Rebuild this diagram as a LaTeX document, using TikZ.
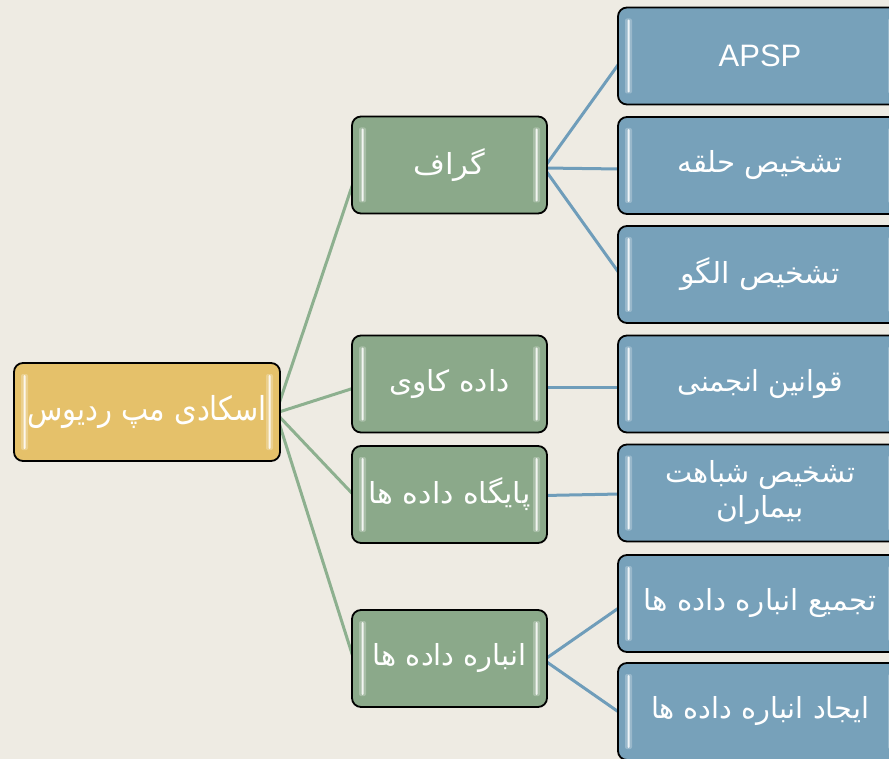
\documentclass[tikz,border=0pt]{standalone}
\usepackage{fontspec}
\usepackage{graphicx}
\setmainfont{Liberation Sans}
\newfontfamily\fa[Script=Arabic]{DejaVu Sans}
\TeXXeTstate=1
\definecolor{bgc}{HTML}{EEEBE3}
\definecolor{rootfill}{HTML}{E5C16A}
\definecolor{gfill}{HTML}{8BA98A}
\definecolor{bfill}{HTML}{77A1BA}
\definecolor{glinec}{HTML}{8DB08F}
\definecolor{blinec}{HTML}{6F9DBA}
\newcommand\rtl[2]{\resizebox{#1}{\height}{\fa #2}}
\pgfdeclarelayer{bgl}
\pgfdeclarelayer{edges}
\pgfsetlayers{bgl,edges,main}
\tikzset{
  bars/.style={path picture={
    \fill[white,opacity=.25,rounded corners=2pt] ([xshift=7pt,yshift=-11pt]path picture bounding box.north west) rectangle ([xshift=14pt,yshift=11pt]path picture bounding box.south west);
    \fill[white,opacity=.85,rounded corners=1pt] ([xshift=9.5pt,yshift=-12pt]path picture bounding box.north west) rectangle ([xshift=11.5pt,yshift=12pt]path picture bounding box.south west);
    \fill[white,opacity=.25,rounded corners=2pt] ([xshift=-14pt,yshift=-11pt]path picture bounding box.north east) rectangle ([xshift=-7pt,yshift=11pt]path picture bounding box.south east);
    \fill[white,opacity=.85,rounded corners=1pt] ([xshift=-11.5pt,yshift=-12pt]path picture bounding box.north east) rectangle ([xshift=-9.5pt,yshift=12pt]path picture bounding box.south east);
  }},
  box/.style={draw=black, line width=1.8pt, rounded corners=9pt, text=white,
    inner sep=0pt, align=center, font=\fontsize{29}{35}\selectfont, bars},
  rootbox/.style={box, fill=rootfill, minimum width=266pt, minimum height=98pt, font=\fontsize{33}{35}\selectfont},
  gbox/.style={box, fill=gfill, minimum width=195pt, minimum height=97pt},
  bbox/.style={box, fill=bfill, minimum width=284pt, minimum height=97pt},
  gline/.style={draw=glinec, line width=3pt},
  bline/.style={draw=blinec, line width=3pt},
}
\begin{document}
\begin{tikzpicture}[x=1pt,y=-1pt]
\useasboundingbox (0,0) rectangle (889,759);
\begin{pgfonlayer}{bgl}
\fill[bgc] (0,0) rectangle (889,759);
\end{pgfonlayer}
\clip (0,0) rectangle (889,759);

\node[rootbox] (root) at (147,412) {\rtl{240pt}{\beginR اسکادی مپ ردیوس\endR}};

\node[gbox] (g1) at (449.5,165) {\rtl{72pt}{\beginR گراف\endR}};
\node[gbox] (g2) at (449.5,384) {\rtl{120pt}{\beginR داده کاوی\endR}};
\node[gbox] (g3) at (449.5,494.5) {\rtl{162pt}{\beginR پایگاه داده ها\endR}};
\node[gbox] (g4) at (449.5,658.5) {\rtl{153pt}{\beginR انباره داده ها\endR}};

\node[bbox] (b1) at (760,56) {\fontsize{31}{35}\selectfont APSP};
\node[bbox] (b2) at (760,165.5) {\rtl{165pt}{\beginR تشخیص حلقه\endR}};
\node[bbox] (b3) at (760,274.5) {\rtl{160pt}{\beginR تشخیص الگو\endR}};
\node[bbox] (b4) at (760,384) {\rtl{165pt}{\beginR قوانین انجمنی\endR}};
\node[bbox] (b5) at (760,493) {\rtl{190pt}{\beginR تشخیص شباهت\endR}\\\rtl{88pt}{\beginR بیماران\endR}};
\node[bbox] (b6) at (760,603.5) {\rtl{233pt}{\beginR تجمیع انباره داده ها\endR}};
\node[bbox] (b7) at (760,711.5) {\rtl{218pt}{\beginR ایجاد انباره داده ها\endR}};

\begin{pgfonlayer}{edges}
\coordinate (ro) at ([xshift=-5pt,yshift=-1pt]root.east);
\draw[gline] (ro) -- ([xshift=3pt,yshift=-15pt]g1.west);
\draw[gline] (ro) -- ([xshift=3pt,yshift=-4pt]g2.west);
\draw[gline] (ro) -- ([xshift=3pt,yshift=-1pt]g3.west);
\draw[gline] (ro) -- ([xshift=3pt,yshift=-2pt]g4.west);
\coordinate (g1o) at ([xshift=-4pt,yshift=-3pt]g1.east);
\draw[bline] (g1o) -- ([xshift=3pt,yshift=-6pt]b1.west);
\draw[bline] (g1o) -- ([xshift=3pt,yshift=-3.5pt]b2.west);
\draw[bline] (g1o) -- ([xshift=3pt]b3.west);
\draw[bline] ([xshift=-4pt,yshift=-3pt]g2.east) -- ([xshift=3pt,yshift=-3pt]b4.west);
\draw[bline] ([xshift=-4pt,yshift=-1pt]g3.east) -- ([xshift=3pt,yshift=-1pt]b5.west);
\coordinate (g4o) at ([xshift=-4pt,yshift=-1.5pt]g4.east);
\draw[bline] (g4o) -- ([xshift=3pt,yshift=-3.5pt]b6.west);
\draw[bline] (g4o) -- ([xshift=3pt,yshift=-1.5pt]b7.west);
\end{pgfonlayer}
\end{tikzpicture}
\end{document}
